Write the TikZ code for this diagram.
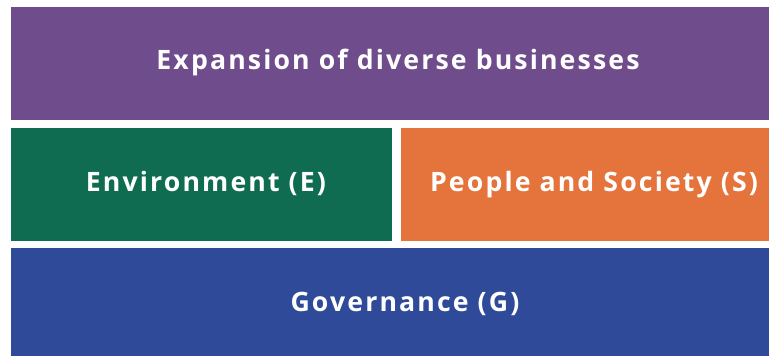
\documentclass[tikz,border=0pt]{standalone}
\usepackage{fontspec}
\setmainfont{Open Sans}[LetterSpace=8.0]
\definecolor{esgpurple}{RGB}{111,76,140}
\definecolor{esggreen}{RGB}{16,108,80}
\definecolor{esgorange}{RGB}{229,115,60}
\definecolor{esgblue}{RGB}{46,74,152}
\tikzset{
    lbl/.style={white, font=\fontsize{20}{24}\selectfont\bfseries, inner sep=0pt, anchor=base}
}
\begin{document}
\begin{tikzpicture}[x=0.75pt, y=-0.75pt]
    \useasboundingbox (0, 0) rectangle (769, 356);
    \fill[esgpurple] (11, 7) rectangle (769, 120);
    \node[lbl] (exp) at (398, 70) {Expansion of diverse businesses};
    \fill[esggreen] (11, 128) rectangle (392, 241);
    \node[lbl] (env) at (206, 192) {Environment (E)};
    \fill[esgorange] (401, 128) rectangle (769, 241);
    \node[lbl] (soc) at (594, 192) {People and Society (S)};
    \fill[esgblue] (11, 248) rectangle (769, 356);
    \node[lbl] (gov) at (405, 312) {Governance (G)};
\end{tikzpicture}
\end{document}
